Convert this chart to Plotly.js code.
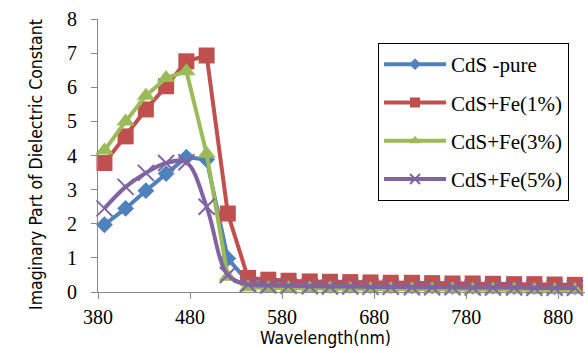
<!DOCTYPE html>
<html>
<head>
<meta charset="utf-8">
<script src="https://cdn.plot.ly/plotly-3.0.1.min.js"></script>
<style>html,body{margin:0;padding:0;background:#fff;overflow:hidden}#chart{width:585px;height:348px}</style>
</head>
<body>
<div id="chart"></div>
<script>
const wavelength = [387, 410, 432, 454, 476, 498, 521, 543, 565, 587, 610, 632, 654, 676, 698, 721, 743, 765, 787, 809, 832, 854, 876, 898];
const cdsPure = [1.97, 2.45, 2.97, 3.47, 3.95, 3.88, 0.98, 0.30, 0.24, 0.22, 0.21, 0.20, 0.20, 0.19, 0.19, 0.18, 0.18, 0.17, 0.17, 0.17, 0.16, 0.16, 0.15, 0.15];
const cdsFe1 = [3.78, 4.56, 5.35, 6.03, 6.76, 6.93, 2.30, 0.41, 0.36, 0.33, 0.31, 0.30, 0.29, 0.28, 0.27, 0.27, 0.26, 0.25, 0.25, 0.24, 0.23, 0.23, 0.22, 0.21];
const cdsFe3 = [4.15, 5.00, 5.75, 6.27, 6.47, 4.05, 0.45, 0.14, 0.12, 0.11, 0.10, 0.10, 0.09, 0.09, 0.09, 0.08, 0.08, 0.08, 0.07, 0.07, 0.07, 0.06, 0.06, 0.06];
const cdsFe5 = [2.45, 3.08, 3.49, 3.78, 3.80, 2.50, 0.50, 0.22, 0.19, 0.18, 0.17, 0.16, 0.16, 0.15, 0.15, 0.14, 0.14, 0.14, 0.13, 0.13, 0.13, 0.12, 0.12, 0.12];
const seriesNames = ['CdS -pure', 'CdS+Fe(1%)', 'CdS+Fe(3%)', 'CdS+Fe(5%)'];
const xTicks = [380, 480, 580, 680, 780, 880];
const yTicks = [0, 1, 2, 3, 4, 5, 6, 7, 8];

const colors = ['#4F81BD', '#C0504D', '#9BBB59', '#8064A2'];
const symbols = ['diamond', 'square', 'triangle-up', 'x-thin'];
const sizes = [13, 16, 16, 16];
const legSizes = [9, 10, 10, 10];
const shapes = ['linear', 'linear', 'linear', 'spline'];
const ys = [cdsPure, cdsFe1, cdsFe3, cdsFe5];

const traces = [];
ys.forEach((y, i) => {
  traces.push({
    x: wavelength, y: y, type: 'scatter', mode: 'lines+markers',
    name: seriesNames[i], showlegend: false, cliponaxis: false,
    line: {color: colors[i], width: 4, shape: shapes[i]},
    marker: {symbol: symbols[i], size: sizes[i], color: colors[i],
             line: {color: colors[i], width: i === 3 ? 2 : 0}}
  });
});
ys.forEach((y, i) => {
  traces.push({
    x: [null], y: [null], type: 'scatter', mode: 'lines+markers',
    name: seriesNames[i], legendgroup: 'g' + i, showlegend: true,
    line: {color: colors[i], width: 4},
    marker: {symbol: symbols[i], size: legSizes[i], color: colors[i],
             line: {color: colors[i], width: i === 3 ? 2 : 0}}
  });
});

const serif = 'Liberation Serif';
const narrow = 'DejaVu Sans Condensed';

const layout = {
  width: 585, height: 348,
  margin: {l: 98, r: 0, t: 19, b: 56},
  paper_bgcolor: '#fff', plot_bgcolor: '#fff',
  showlegend: true,
  xaxis: {
    range: [380, 909], tickvals: xTicks, ticktext: xTicks.map(String),
    showgrid: false, zeroline: false, showline: true, linecolor: '#888', linewidth: 1,
    ticks: 'outside', ticklen: 6, tickcolor: '#888', ticklabelstandoff: 1,
    tickfont: {family: serif, size: 20, color: '#000'}
  },
  yaxis: {
    range: [0, 8], tickvals: yTicks, ticktext: yTicks.map(String),
    showgrid: false, zeroline: false, showline: true, linecolor: '#888', linewidth: 1,
    ticks: 'outside', ticklen: 6, tickcolor: '#888', ticklabelstandoff: 10,
    tickfont: {family: serif, size: 20, color: '#000'}
  },
  legend: {
    x: 0.575, xanchor: 'left', y: 0.912, yanchor: 'top',
    bordercolor: '#000', borderwidth: 1, bgcolor: '#fff',
    font: {family: serif, size: 21, color: '#000'},
    itemwidth: 62, tracegroupgap: 8, traceorder: 'grouped'
  },
  annotations: [
    {text: 'Wavelength(nm)', xref: 'paper', yref: 'paper', x: (325 - 98) / 487, y: (292 - 349) / 273,
     xanchor: 'center', yanchor: 'bottom', showarrow: false, borderpad: 0,
     font: {family: narrow, size: 17.5, color: '#000'}},
    {text: 'Imaginary Part of Dielectric Constant', xref: 'paper', yref: 'paper', x: (36 - 98) / 487, y: (292 - 165) / 273,
     xanchor: 'center', yanchor: 'middle', showarrow: false, textangle: -90,
     font: {family: narrow, size: 17.5, color: '#000'}}
  ]
};

Plotly.newPlot('chart', traces, layout, {displayModeBar: false, staticPlot: true});
</script>
</body>
</html>
